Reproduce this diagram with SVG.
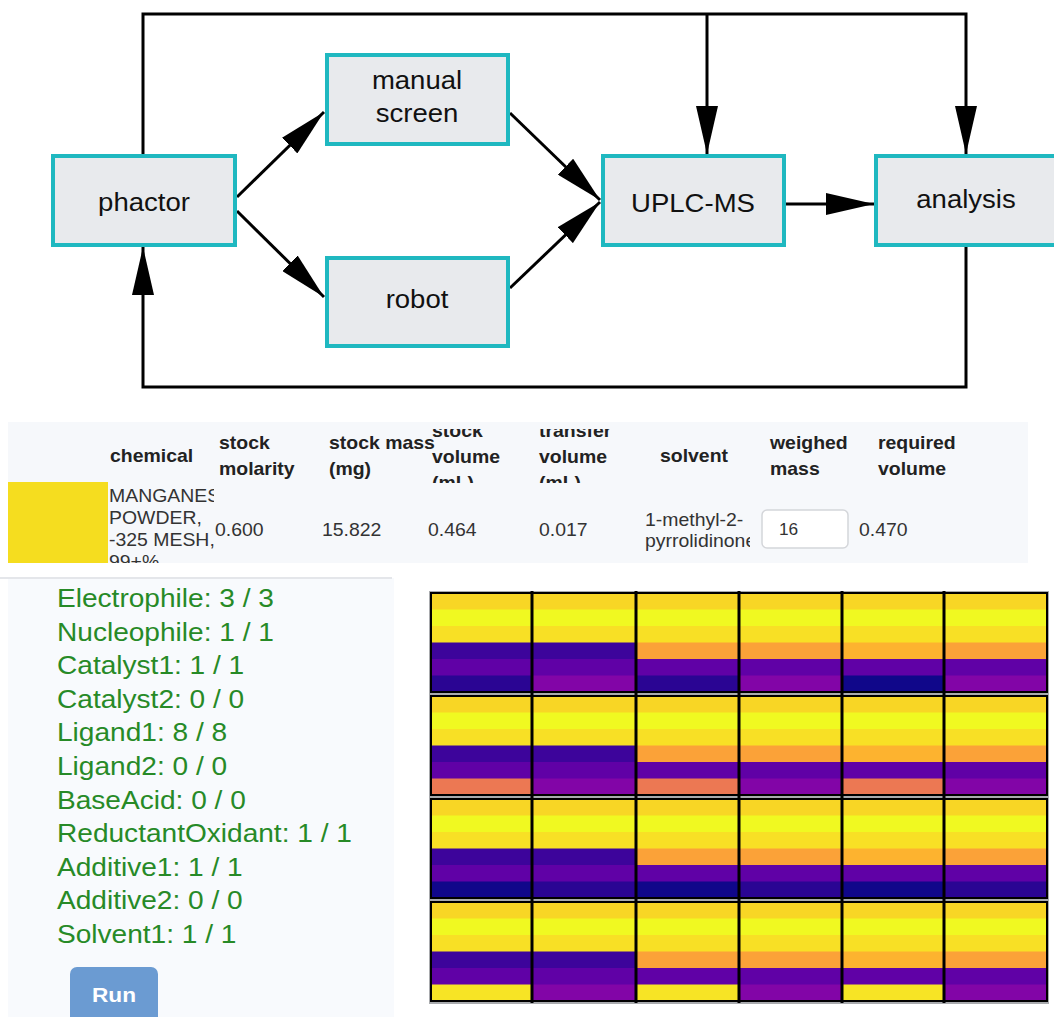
<svg xmlns="http://www.w3.org/2000/svg" width="1054" height="1017" viewBox="0 0 1054 1017">
  <style>
    .box{fill:#e8eaed;stroke:#1fb8c0;stroke-width:4}
    .lbl{font-family:"Liberation Sans",Arial,sans-serif;font-size:25.5px;fill:#111;text-anchor:middle}
    .wire{fill:none;stroke:#000;stroke-width:3}
    .th{font-family:"Liberation Sans",Arial,sans-serif;font-size:18px;font-weight:bold;fill:#222}
    .td{font-family:"Liberation Sans",Arial,sans-serif;font-size:18px;fill:#333}
    .cnt{font-family:"Liberation Sans",Arial,sans-serif;font-size:26px;fill:#278a27}
    .y1{fill:#f8d625}.y2{fill:#f0f921}.y3{fill:#f8e025}
    .ind{fill:#3d049b}.org{fill:#fba238}.org2{fill:#fdb32f}.pur{fill:#6001a6}
    .dblue{fill:#2a0593}.vio{fill:#8205a7}.sal{fill:#ec7853}.navy{fill:#10078a}.ylo{fill:#f7e425}
  </style>
  <defs>
    <marker id="head" markerUnits="userSpaceOnUse" markerWidth="48" markerHeight="22" refX="48" refY="11" orient="auto">
      <path d="M0,0 L48,11 L0,22 Z" fill="#000"/>
    </marker>
    <clipPath id="clipHead"><rect x="420" y="429" width="230" height="54"/></clipPath>
    <clipPath id="clipChem"><rect x="108" y="480" width="106" height="83"/></clipPath>
    <clipPath id="clipSolv"><rect x="640" y="500" width="110" height="60"/></clipPath>
  </defs>

  <rect width="1054" height="1017" fill="#fff"/>

  <!-- workflow connectors -->
  <g id="connectors">
    <path class="wire" d="M143,154 V14 H966 V154" marker-end="url(#head)"/>
    <path class="wire" d="M707,14 V154" marker-end="url(#head)"/>
    <path class="wire" d="M966,247 V387 H143 V247" marker-end="url(#head)"/>
    <path class="wire" d="M237,197 L324,112" marker-end="url(#head)"/>
    <path class="wire" d="M237,211 L324,297" marker-end="url(#head)"/>
    <path class="wire" d="M510,113 L600,200" marker-end="url(#head)"/>
    <path class="wire" d="M510,288 L600,202" marker-end="url(#head)"/>
    <path class="wire" d="M786,204 L874,204" marker-end="url(#head)"/>
  </g>

  <!-- workflow nodes -->
  <g id="node-phactor">
    <rect class="box" x="53" y="156" width="182" height="89"/>
    <text class="lbl" transform="translate(144 211) scale(1.08 1)">phactor</text>
  </g>
  <g id="node-manual-screen">
    <rect class="box" x="327" y="55" width="181" height="89"/>
    <text class="lbl" transform="translate(417 89) scale(1.08 1)">manual</text>
    <text class="lbl" transform="translate(417 122) scale(1.08 1)">screen</text>
  </g>
  <g id="node-robot">
    <rect class="box" x="327" y="258" width="181" height="88"/>
    <text class="lbl" transform="translate(417 308) scale(1.08 1)">robot</text>
  </g>
  <g id="node-uplc-ms">
    <rect class="box" x="603" y="156" width="181" height="89"/>
    <text class="lbl" transform="translate(693 212) scale(1.08 1)">UPLC-MS</text>
  </g>
  <g id="node-analysis">
    <rect class="box" x="876" y="156" width="180" height="89"/>
    <text class="lbl" transform="translate(966 208) scale(1.08 1)">analysis</text>
  </g>

  <!-- stock solution table -->
  <g id="stock-table">
    <rect x="8" y="422" width="1020" height="141" fill="#f6f8fb"/>
    <rect x="8" y="482" width="100" height="81" fill="#f5dd1f"/>
    <text class="th" transform="translate(110 462) scale(1.08 1)">chemical</text>
    <text class="th" transform="translate(219 449) scale(1.08 1)">stock</text>
    <text class="th" transform="translate(219 475) scale(1.08 1)">molarity</text>
    <text class="th" transform="translate(329 449) scale(1.08 1)">stock mass</text>
    <text class="th" transform="translate(329 475) scale(1.08 1)">(mg)</text>
    <g clip-path="url(#clipHead)">
      <text class="th" transform="translate(432 437) scale(1.08 1)">stock</text>
      <text class="th" transform="translate(432 463) scale(1.08 1)">volume</text>
      <text class="th" transform="translate(432 489) scale(1.08 1)">(mL)</text>
      <text class="th" transform="translate(539 437) scale(1.08 1)">transfer</text>
      <text class="th" transform="translate(539 463) scale(1.08 1)">volume</text>
      <text class="th" transform="translate(539 489) scale(1.08 1)">(mL)</text>
    </g>
    <text class="th" transform="translate(660 462) scale(1.08 1)">solvent</text>
    <text class="th" transform="translate(770 449) scale(1.08 1)">weighed</text>
    <text class="th" transform="translate(770 475) scale(1.08 1)">mass</text>
    <text class="th" transform="translate(878 449) scale(1.08 1)">required</text>
    <text class="th" transform="translate(878 475) scale(1.08 1)">volume</text>

    <g clip-path="url(#clipChem)">
      <text class="td" transform="translate(109 502) scale(1.08 1)">MANGANESE</text>
      <text class="td" transform="translate(109 524) scale(1.08 1)">POWDER,</text>
      <text class="td" transform="translate(109 546) scale(1.08 1)">-325 MESH,</text>
      <text class="td" transform="translate(109 568) scale(1.08 1)">99+%</text>
    </g>
    <text class="td" transform="translate(215 536) scale(1.08 1)">0.600</text>
    <text class="td" transform="translate(322 536) scale(1.08 1)">15.822</text>
    <text class="td" transform="translate(428 536) scale(1.08 1)">0.464</text>
    <text class="td" transform="translate(539 536) scale(1.08 1)">0.017</text>
    <g clip-path="url(#clipSolv)">
      <text class="td" transform="translate(645 526) scale(1.08 1)">1-methyl-2-</text>
      <text class="td" transform="translate(645 547) scale(1.08 1)">pyrrolidinone</text>
    </g>
    <rect x="762" y="510" width="86" height="38" rx="5" fill="#fff" stroke="#d4d6da" stroke-width="1.5"/>
    <text class="td" style="font-size:16px" transform="translate(779 535) scale(1.08 1)">16</text>
    <text class="td" transform="translate(859 536) scale(1.08 1)">0.470</text>
  </g>

  <!-- reagent count panel -->
  <g id="count-panel">
    <rect x="8" y="578" width="386" height="440" fill="#f8fafd"/>
    <line x1="0" y1="578" x2="392" y2="578" stroke="#e4e6ea" stroke-width="2"/>
    <text class="cnt" transform="translate(57 607) scale(1.08 1)">Electrophile: 3 / 3</text>
    <text class="cnt" transform="translate(57 641) scale(1.08 1)">Nucleophile: 1 / 1</text>
    <text class="cnt" transform="translate(57 674) scale(1.08 1)">Catalyst1: 1 / 1</text>
    <text class="cnt" transform="translate(57 708) scale(1.08 1)">Catalyst2: 0 / 0</text>
    <text class="cnt" transform="translate(57 741) scale(1.08 1)">Ligand1: 8 / 8</text>
    <text class="cnt" transform="translate(57 775) scale(1.08 1)">Ligand2: 0 / 0</text>
    <text class="cnt" transform="translate(57 809) scale(1.08 1)">BaseAcid: 0 / 0</text>
    <text class="cnt" transform="translate(57 842) scale(1.08 1)">ReductantOxidant: 1 / 1</text>
    <text class="cnt" transform="translate(57 876) scale(1.08 1)">Additive1: 1 / 1</text>
    <text class="cnt" transform="translate(57 909) scale(1.08 1)">Additive2: 0 / 0</text>
    <text class="cnt" transform="translate(57 943) scale(1.08 1)">Solvent1: 1 / 1</text>
  </g>

  <g id="run-button">
    <rect x="70" y="967" width="88" height="60" rx="7" fill="#6b9bd2"/>
    <text transform="translate(114 1002) scale(1.08 1)" font-family="'Liberation Sans',Arial,sans-serif" font-size="21" font-weight="bold" fill="#fff" text-anchor="middle">Run</text>
  </g>

  <!-- plate heatmap: 4 bands x 6 wells, 6 stripes per well (stripes overlap by 0.5 to avoid seams) -->
  <g id="heatmap">
    <rect x="429" y="591" width="620" height="413" fill="#a9abae"/>
    <!-- band 1 -->
    <g id="band1" transform="translate(0 592)">
      <rect x="430" y="0" width="618" height="101" fill="#000"/>
      <rect class="y1" x="431" y="1" width="616" height="17"/>
      <rect class="y2" x="431" y="17.5" width="616" height="17"/>
      <rect class="y3" x="431" y="34" width="616" height="17"/>
      <rect class="ind" x="431" y="50.5" width="205" height="17"/>
      <rect class="org" x="636" y="50.5" width="206" height="17"/>
      <rect class="org2" x="842" y="50.5" width="102" height="17"/>
      <rect class="org" x="944" y="50.5" width="103" height="17"/>
      <rect class="pur" x="431" y="67" width="616" height="17"/>
      <rect class="dblue" x="431" y="83.5" width="101" height="16.5"/>
      <rect class="vio" x="532" y="83.5" width="104" height="16.5"/>
      <rect class="dblue" x="636" y="83.5" width="103" height="16.5"/>
      <rect class="vio" x="739" y="83.5" width="103" height="16.5"/>
      <rect class="navy" x="842" y="83.5" width="102" height="16.5"/>
      <rect class="vio" x="944" y="83.5" width="103" height="16.5"/>
    </g>
    <!-- band 2 -->
    <g id="band2" transform="translate(0 695)">
      <rect x="430" y="0" width="618" height="101" fill="#000"/>
      <rect class="y1" x="431" y="1" width="616" height="17"/>
      <rect class="y2" x="431" y="17.5" width="616" height="17"/>
      <rect class="y3" x="431" y="34" width="616" height="17"/>
      <rect class="ind" x="431" y="50.5" width="205" height="17"/>
      <rect class="org" x="636" y="50.5" width="206" height="17"/>
      <rect class="org2" x="842" y="50.5" width="102" height="17"/>
      <rect class="org" x="944" y="50.5" width="103" height="17"/>
      <rect class="pur" x="431" y="67" width="616" height="17"/>
      <rect class="sal" x="431" y="83.5" width="101" height="16.5"/>
      <rect class="vio" x="532" y="83.5" width="104" height="16.5"/>
      <rect class="sal" x="636" y="83.5" width="103" height="16.5"/>
      <rect class="vio" x="739" y="83.5" width="103" height="16.5"/>
      <rect class="sal" x="842" y="83.5" width="102" height="16.5"/>
      <rect class="vio" x="944" y="83.5" width="103" height="16.5"/>
    </g>
    <!-- band 3 -->
    <g id="band3" transform="translate(0 798)">
      <rect x="430" y="0" width="618" height="101" fill="#000"/>
      <rect class="y1" x="431" y="1" width="616" height="17"/>
      <rect class="y2" x="431" y="17.5" width="616" height="17"/>
      <rect class="y3" x="431" y="34" width="616" height="17"/>
      <rect class="ind" x="431" y="50.5" width="205" height="17"/>
      <rect class="org" x="636" y="50.5" width="206" height="17"/>
      <rect class="org2" x="842" y="50.5" width="102" height="17"/>
      <rect class="org" x="944" y="50.5" width="103" height="17"/>
      <rect class="pur" x="431" y="67" width="616" height="17"/>
      <rect class="navy" x="431" y="83.5" width="101" height="16.5"/>
      <rect class="dblue" x="532" y="83.5" width="104" height="16.5"/>
      <rect class="navy" x="636" y="83.5" width="103" height="16.5"/>
      <rect class="dblue" x="739" y="83.5" width="103" height="16.5"/>
      <rect class="navy" x="842" y="83.5" width="102" height="16.5"/>
      <rect class="dblue" x="944" y="83.5" width="103" height="16.5"/>
    </g>
    <!-- band 4 -->
    <g id="band4" transform="translate(0 901)">
      <rect x="430" y="0" width="618" height="101" fill="#000"/>
      <rect class="y1" x="431" y="1" width="616" height="17"/>
      <rect class="y2" x="431" y="17.5" width="616" height="17"/>
      <rect class="y3" x="431" y="34" width="616" height="17"/>
      <rect class="ind" x="431" y="50.5" width="205" height="17"/>
      <rect class="org" x="636" y="50.5" width="206" height="17"/>
      <rect class="org2" x="842" y="50.5" width="102" height="17"/>
      <rect class="org" x="944" y="50.5" width="103" height="17"/>
      <rect class="pur" x="431" y="67" width="616" height="17"/>
      <rect class="ylo" x="431" y="83.5" width="101" height="16.5"/>
      <rect class="vio" x="532" y="83.5" width="104" height="16.5"/>
      <rect class="ylo" x="636" y="83.5" width="103" height="16.5"/>
      <rect class="vio" x="739" y="83.5" width="103" height="16.5"/>
      <rect class="ylo" x="842" y="83.5" width="102" height="16.5"/>
      <rect class="vio" x="944" y="83.5" width="103" height="16.5"/>
    </g>
    <!-- well borders -->
    <g stroke="#000" stroke-width="3">
      <line x1="532" y1="591" x2="532" y2="1003"/>
      <line x1="636" y1="591" x2="636" y2="1003"/>
      <line x1="739" y1="591" x2="739" y2="1003"/>
      <line x1="842" y1="591" x2="842" y2="1003"/>
      <line x1="944" y1="591" x2="944" y2="1003"/>
    </g>
    <g fill="none" stroke="#000" stroke-width="2">
      <rect x="431" y="593" width="616" height="99"/>
      <rect x="431" y="696" width="616" height="99"/>
      <rect x="431" y="799" width="616" height="99"/>
      <rect x="431" y="902" width="616" height="99"/>
    </g>
  </g>
</svg>
